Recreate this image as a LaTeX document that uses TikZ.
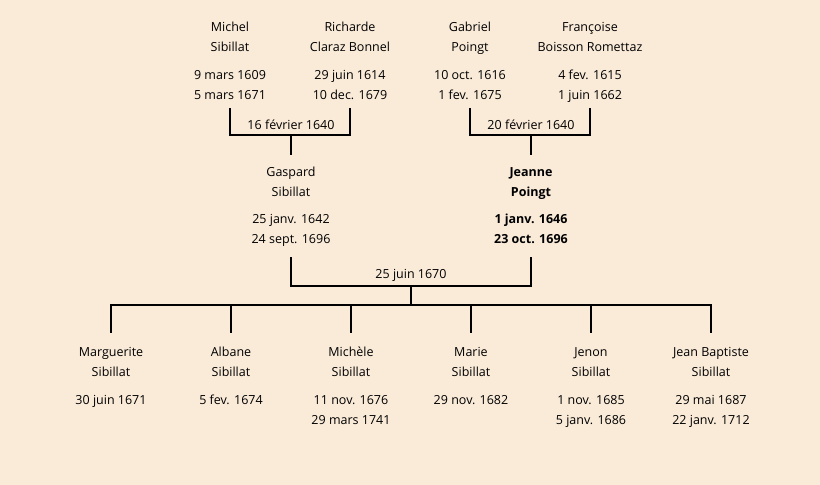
\documentclass[tikz,border=0pt]{standalone}
\usepackage{fontspec}
\setmainfont{Open Sans}
\definecolor{bg}{RGB}{250,235,217}
\begin{document}
\begin{tikzpicture}[x=1pt,y=-1pt,
  txt/.style={font=\fontsize{12.5}{20}\selectfont},
  person/.style={txt,align=center,inner sep=0pt,anchor=north},
  boldperson/.style={person,font=\fontsize{12.5}{20}\selectfont\bfseries},
  datelbl/.style={txt,inner sep=0pt},
  link/.style={line width=2pt}]
\fill[bg] (0,0) rectangle (820,485);
\useasboundingbox (0,0) rectangle (820,485);
% grandparents
\node[person] (michel) at (230,17) {\strut Michel\\\strut Sibillat\\[8pt]\strut 9 mars 1609\\\strut 5 mars 1671};
\node[person] (richarde) at (350,17) {\strut Richarde\\\strut Claraz Bonnel\\[8pt]\strut 29 juin 1614\\\strut 10 dec. 1679};
\node[person] (gabriel) at (470,17) {\strut Gabriel\\\strut Poingt\\[8pt]\strut 10 oct. 1616\\\strut 1 fev. 1675};
\node[person] (francoise) at (590,17) {\strut Françoise\\\strut Boisson Romettaz\\[8pt]\strut 4 fev. 1615\\\strut 1 juin 1662};
% parents
\node[person] (gaspard) at (291,162) {\strut Gaspard\\\strut Sibillat\\[7pt]\strut 25 janv. 1642\\\strut 24 sept. 1696};
\node[boldperson] (jeanne) at (531,162) {\strut Jeanne\\\strut Poingt\\[7pt]\strut 1 janv. 1646\\\strut 23 oct. 1696};
% children
\node[person] (c1) at (111,342) {\strut Marguerite\\\strut Sibillat\\[8pt]\strut 30 juin 1671};
\node[person] (c2) at (231,342) {\strut Albane\\\strut Sibillat\\[8pt]\strut 5 fev. 1674};
\node[person] (c3) at (351,342) {\strut Michèle\\\strut Sibillat\\[8pt]\strut 11 nov. 1676\\\strut 29 mars 1741};
\node[person] (c4) at (471,342) {\strut Marie\\\strut Sibillat\\[8pt]\strut 29 nov. 1682};
\node[person] (c5) at (591,342) {\strut Jenon\\\strut Sibillat\\[8pt]\strut 1 nov. 1685\\\strut 5 janv. 1686};
\node[person] (c6) at (711,342) {\strut Jean Baptiste\\\strut Sibillat\\[8pt]\strut 29 mai 1687\\\strut 22 janv. 1712};
% union points
\coordinate (u1) at (291,135);
\coordinate (u2) at (531,135);
\coordinate (u3) at (411,286);
\coordinate (h) at (411,305);
\node[datelbl] (d1) at (291,125) {16 février 1640};
\node[datelbl] (d2) at (531,125) {20 février 1640};
\node[datelbl] (d3) at (411,275) {25 juin 1670};
% connectors
\draw[link] ([yshift=-3pt]michel.south) |- (u1) -| ([yshift=-3pt]richarde.south);
\draw[link] ([yshift=-3pt]gabriel.south) |- (u2) -| ([yshift=-3pt]francoise.south);
\draw[link] (u1) -- ([yshift=7pt]gaspard.north);
\draw[link] (u2) -- ([yshift=7pt]jeanne.north);
\draw[link] ([yshift=-8pt]gaspard.south) |- (u3) -| ([yshift=-8pt]jeanne.south);
\draw[link] (u3) -- (h);
\foreach \c in {c1,c2,c3,c4,c5,c6}
  \draw[link] (h) -| ([yshift=9pt]\c.north);
\end{tikzpicture}
\end{document}
